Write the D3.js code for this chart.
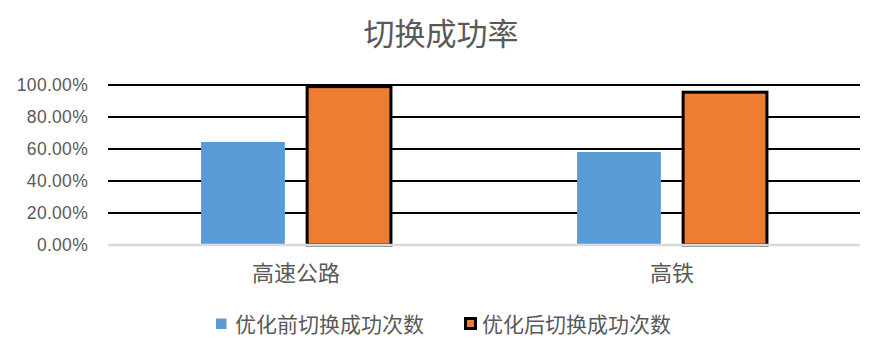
<!DOCTYPE html>
<html><head><meta charset="utf-8">
<script src="https://cdn.jsdelivr.net/npm/d3@7"></script>
<style>body{margin:0;background:#fff;} svg{display:block;}</style>
</head><body>
<svg id="c" width="879" height="356"></svg>
<script>
const title = "切换成功率";
const categories = ["高速公路", "高铁"];
const seriesNames = ["优化前切换成功次数", "优化后切换成功次数"];
const before = [0.644, 0.581];
const after = [0.99, 0.955];
const yTicks = [0, 0.2, 0.4, 0.6, 0.8, 1.0];

const colors = ["#5b9bd5", "#ed7d31"];
const svg = d3.select("#c");
const W = 879, H = 356;
const m = {left: 108, right: 19, top: 85, bottom: 111};
const pw = W - m.left - m.right, ph = H - m.top - m.bottom;

const x0 = d3.scaleBand().domain(categories).range([m.left, m.left + pw]).paddingInner(0.495).paddingOuter(0.2475);
const x1 = d3.scaleBand().domain([0, 1]).range([0, x0.bandwidth()]).paddingInner(0.21).paddingOuter(0);
const y = d3.scaleLinear().domain([0, 1]).range([m.top + ph, m.top]);

svg.append("text").attr("x", 441).attr("y", 45).attr("text-anchor", "middle")
  .attr("font-family", "Noto Sans CJK SC").attr("font-size", 31).attr("fill", "#595959").text(title);

// gridlines
svg.append("g").selectAll("line").data(yTicks.filter(d => d > 0)).join("line")
  .attr("x1", m.left).attr("x2", m.left + pw).attr("y1", d => y(d)).attr("y2", d => y(d))
  .attr("stroke", "#000").attr("stroke-width", 2);

// y axis labels
const yAxis = d3.axisLeft(y).tickValues(yTicks).tickSize(0).tickPadding(20)
  .tickFormat(d => (d * 100).toFixed(2) + "%");
const ga = svg.append("g").attr("transform", `translate(${m.left},0)`).call(yAxis);
ga.select(".domain").remove();
ga.selectAll("text").attr("font-family", "Liberation Sans, Arial").attr("font-size", 17.5)
  .attr("fill", "#595959").attr("letter-spacing", 0.3);

// bars
const data = categories.map((c, i) => ({c, vals: [before[i], after[i]]}));
const g = svg.append("g").selectAll("g").data(data).join("g")
  .attr("transform", d => `translate(${x0(d.c)},0)`);
g.selectAll("rect").data(d => d.vals.map((v, k) => ({v, k}))).join("rect")
  .attr("x", d => x1(d.k)).attr("width", x1.bandwidth())
  .attr("y", d => y(d.v)).attr("height", d => y(0) - y(d.v))
  .attr("fill", d => colors[d.k])
  .attr("stroke", d => d.k === 1 ? "#000" : "none")
  .attr("stroke-width", 3);

// baseline
svg.append("line").attr("x1", m.left).attr("x2", m.left + pw).attr("y1", y(0)).attr("y2", y(0))
  .attr("stroke", "#d9d9d9").attr("stroke-width", 2.5);

// category labels
const xAxis = d3.axisBottom(x0).tickSize(0).tickPadding(20);
const gx = svg.append("g").attr("transform", `translate(0,${y(0)})`).call(xAxis);
gx.select(".domain").remove();
gx.selectAll("text").attr("font-family", "Noto Sans CJK SC").attr("font-size", 22).attr("fill", "#595959");

// legend
const legX = [216, 464];
const leg = svg.append("g").selectAll("g").data(seriesNames).join("g")
  .attr("transform", (d, i) => `translate(${legX[i]},318)`);
leg.append("rect").attr("x", (d, i) => i ? 1.5 : 0).attr("y", (d, i) => i ? 0.5 : 0.5)
  .attr("width", (d, i) => i ? 10 : 10.5).attr("height", (d, i) => i ? 10 : 10.5)
  .attr("fill", (d, i) => colors[i])
  .attr("stroke", (d, i) => i ? "#000" : "none").attr("stroke-width", 3);
leg.append("text").attr("x", (d, i) => i ? 18 : 19).attr("y", 6).attr("dy", "0.36em")
  .attr("font-family", "Noto Sans CJK SC").attr("font-size", 21).attr("fill", "#595959").text(d => d);
</script>
</body></html>
